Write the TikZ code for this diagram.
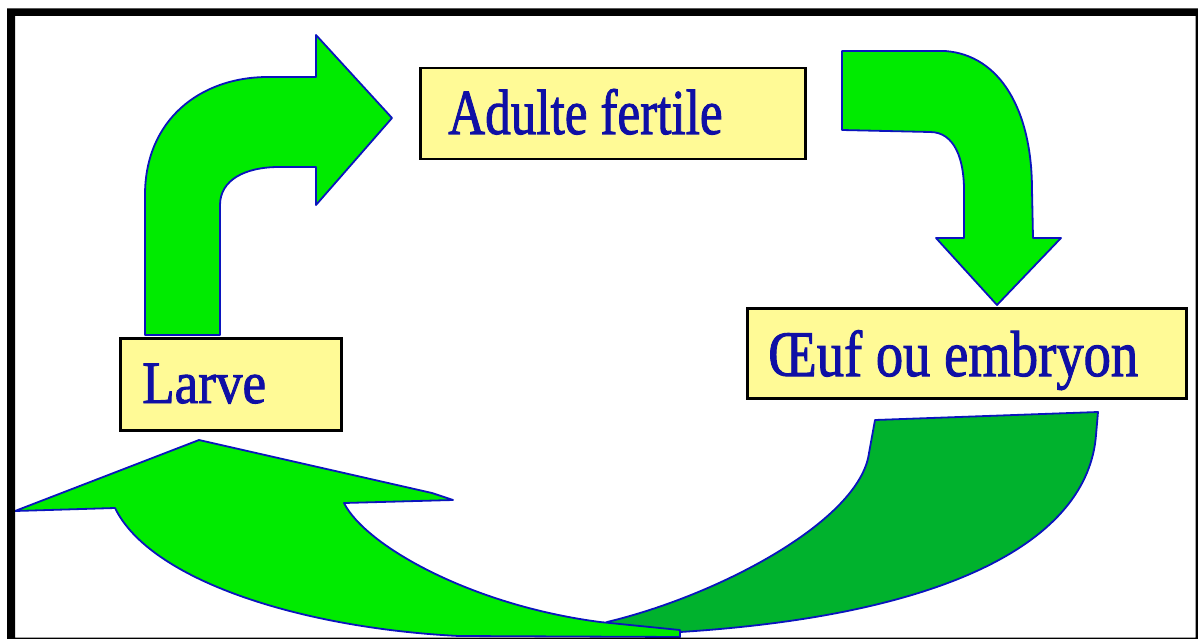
\documentclass[tikz,border=0pt]{standalone}
\usepackage{fontspec}
\setmainfont{Liberation Serif}
\newfontfamily\lblfont[FakeBold=1.6]{Liberation Serif}
\usepackage{graphicx}
\definecolor{brightgreen}{RGB}{0,235,0}
\definecolor{darkgreen}{RGB}{0,178,45}
\definecolor{edgeblue}{RGB}{10,20,190}
\definecolor{boxyellow}{RGB}{255,250,150}
\definecolor{textblue}{RGB}{15,15,165}
\begin{document}
\begin{tikzpicture}[x=1pt,y=-1pt,
  box/.style={draw=black, line width=2.5pt, fill=boxyellow, inner sep=0pt, anchor=north west},
  lbl/.style={inner sep=0pt, anchor=base west, text=textblue, font=\lblfont},
  frontarrow/.style={fill=brightgreen, draw=edgeblue, line width=1.8pt, line join=round},
  backarrow/.style={fill=darkgreen, draw=edgeblue, line width=1.8pt, line join=round}]
\useasboundingbox (0,0) rectangle (1198,639);
\fill[white] (0,0) rectangle (1198,639);

% arrow from Larve to Adulte fertile
\draw[frontarrow] (145,335) -- (145,195) .. controls (145,120) and (200,77) .. (268,77)
  -- (316,77) -- (316,35) -- (392,118) -- (316,205) -- (316,167) -- (279,167)
  .. controls (245,167) and (220,180) .. (220,205) -- (220,335) -- cycle;

% arrow from Adulte fertile to Oeuf
\draw[frontarrow] (842,51) -- (945,51) .. controls (1000,55) and (1032,110) .. (1032,190)
  -- (1033,238) -- (1061,238) -- (997,305) -- (936,238) -- (964,238) -- (964,190)
  .. controls (964,160) and (955,132) .. (930,132) -- (842,130) -- cycle;

% bottom arrow: back (dark) part
\draw[backarrow] (875,420) -- (1098,412) -- (1096,435) .. controls (1088,540) and (950,615) .. (680,632)
  -- (600,633) -- (607,622) .. controls (720,595) and (860,520) .. (869,453) -- cycle;

% bottom arrow: front (bright) part with head
\draw[frontarrow] (15,511) -- (199,440) -- (432,493) -- (453,500) -- (344,503)
  .. controls (365,545) and (470,605) .. (600,622) -- (680,630) -- (680,637) -- (459,636)
  .. controls (300,628) and (150,580) .. (115,508) -- cycle;

% boxes
\node[box, minimum width=385pt, minimum height=91pt] (adulteBox) at (419,67) {};
\node[box, minimum width=221pt, minimum height=92pt] (larveBox) at (119,337) {};
\node[box, minimum width=439pt, minimum height=90pt] (oeufBox) at (746,307) {};

% labels
\node[lbl] (adulte) at (448,134) {\scalebox{0.80}[1]{\fontsize{64}{64}\selectfont Adulte fertile}};
\node[lbl] (larve) at (142,403) {\scalebox{0.886}[1]{\fontsize{60}{60}\selectfont Larve}};
\node[lbl] (oeuf) at (768,376) {\scalebox{0.84}[1]{\fontsize{65}{65}\selectfont Œuf ou embryon}};

% frame
\fill[black, even odd rule] (7,8.5) rectangle (1198,639) (15,16) rectangle (1195.5,637.5);
\end{tikzpicture}
\end{document}
